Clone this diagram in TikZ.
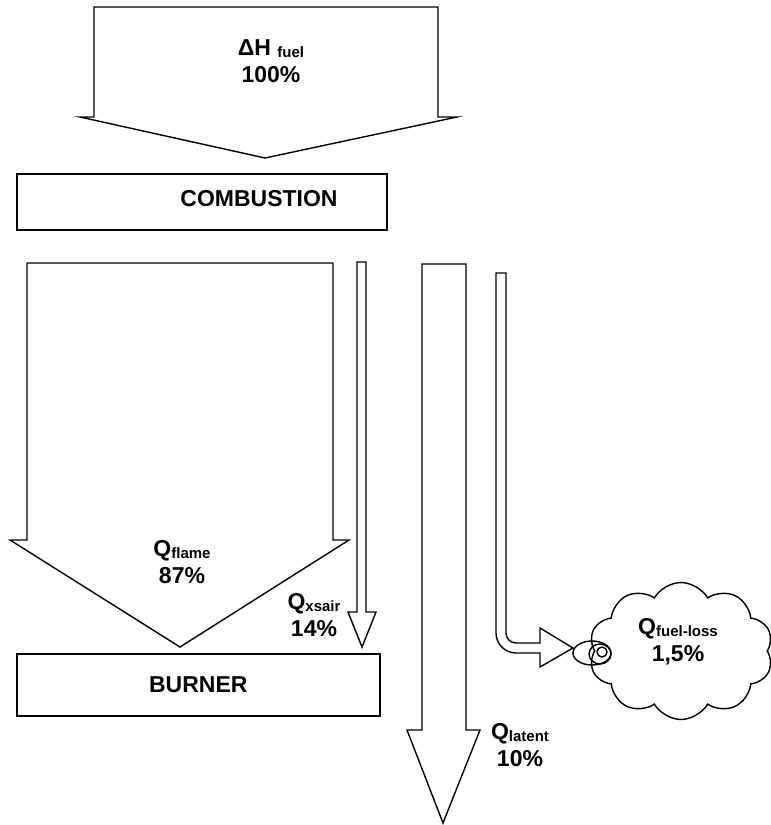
\documentclass[tikz,border=0pt]{standalone}
\usepackage{fontspec}
\setmainfont{Liberation Sans}
\usetikzlibrary{shapes.symbols}
\tikzset{
  blockarrow/.style={draw=black, line width=1.4pt, line join=miter, fill=white},
  boxstyle/.style={draw=black, line width=1.6pt, fill=white},
  lbl/.style={font=\bfseries\fontsize{23}{27}\selectfont, align=center, inner sep=0pt},
}
\newcommand{\subtx}[1]{\raisebox{-2pt}{\fontsize{15}{15}\selectfont #1}}
\begin{document}
\begin{tikzpicture}[x=1pt,y=-1pt]
\useasboundingbox (0,0) rectangle (771,825);
% top arrow
\draw[blockarrow] (94,7) -- (438,7) -- (438,117) -- (457,117) -- (265,158) -- (80,117) -- (94,117) -- cycle;
\node[lbl] (fuel) at (271,61) {ΔH \subtx{fuel}\\100\%};
% combustion box
\node[boxstyle, minimum width=370pt, minimum height=56pt, anchor=north west, inner sep=0pt] (comb) at (16,173) {};
\node[lbl] (combt) at (259,199) {COMBUSTION};
% flame arrow
\draw[blockarrow] (27,263) -- (333,263) -- (333,540) -- (349,540) -- (180,647) -- (10,540) -- (27,540) -- cycle;
\node[lbl] (flame) at (182,562) {Q\subtx{flame}\\87\%};
% excess air arrow
\draw[blockarrow] (357,262) -- (366,262) -- (366,612) -- (376,612) -- (362,647) -- (348,612) -- (357,612) -- cycle;
\node[lbl] (xsair) at (314,615) {Q\subtx{xsair}\\14\%};
% burner box
\node[boxstyle, minimum width=363pt, minimum height=62pt, anchor=north west, inner sep=0pt] (burn) at (16,653) {};
\node[lbl] (burnt) at (burn.center) {BURNER};
% latent arrow
\draw[blockarrow] (422,264) -- (466,264) -- (466,730) -- (480,730) -- (443,823) -- (407,730) -- (422,730) -- cycle;
\node[lbl] (latent) at (520,745) {Q\subtx{latent}\\10\%};
% cloud
\node[cloud, draw=black, line width=1.4pt, fill=white, cloud puffs=10, cloud puff arc=120, aspect=1.34, cloud ignores aspect, minimum width=184pt, minimum height=137pt, inner sep=0pt] (cloud) at (681,651) {};
\draw[line width=1.4pt] (592,653) ellipse [x radius=19pt, y radius=12pt];
\draw[line width=1.4pt] (600,654) ellipse [x radius=11pt, y radius=10pt];
\draw[line width=1.4pt] (602,652) circle [radius=5pt];
% fuel-loss arrow
\draw[blockarrow] (496,273) -- (506,273) -- (506,633) .. controls (506,638.5) and (510.5,643) .. (516,643) -- (540,643) -- (540,628) -- (573,648) -- (540,667) -- (540,653) -- (516,653) .. controls (505,653) and (496,644) .. (496,633) -- cycle;
\node[lbl] (loss) at (678,642) {Q\subtx{fuel-loss}\\1,5\%};
\end{tikzpicture}
\end{document}
